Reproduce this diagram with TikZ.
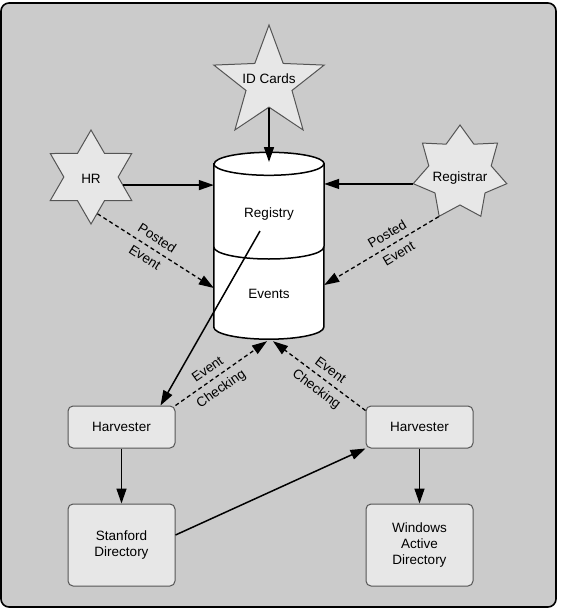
\documentclass[tikz,border=0pt]{standalone}
\usepackage{fontspec}
\setmainfont{Liberation Sans}
\usepackage{xcolor}
\definecolor{framegray}{RGB}{203,203,203}
\definecolor{boxgray}{RGB}{231,231,231}
\definecolor{edgegray}{RGB}{85,85,85}
\usepackage{tikz}
\usetikzlibrary{arrows.meta}
\usetikzlibrary{shapes.geometric}
\newcommand{\labelfont}{\fontsize{13.5}{16}\selectfont}
\tikzset{
    plain/.style={font=\labelfont, align=center},
    common/.style={plain, draw=edgegray, fill=boxgray, line width=1pt},
    source/.style={common, star, inner sep=0pt},
    idstar/.style={source, star points=5, star point ratio=2.4, minimum size=116pt},
    hrstar/.style={source, star points=6, star point ratio=1.73, minimum size=94pt},
    regstar/.style={source, star points=7, star point ratio=1.5, minimum size=96pt},
    box/.style={common, rectangle, rounded corners=5pt, minimum width=107pt},
    harvester/.style={box, minimum height=42pt},
    directory/.style={box, minimum height=82pt},
    body/.style={rectangle, minimum width=110pt, minimum height=163pt, inner sep=0pt},
    rim/.style={line width=1.5pt},
    feed/.style={-{Triangle[length=15pt, width=10pt]}, line width=1.5pt},
    event/.style={feed, line width=1.3pt, dash pattern=on 4pt off 3pt},
    tag/.style={plain, sloped, inner sep=6pt}
}

\begin{document}
\begin{tikzpicture}[x=1pt, y=-1pt]
      \useasboundingbox (0,0) rectangle (562,614);
      \draw[fill=framegray, line width=1.6pt, rounded corners=8pt] (1,3) rectangle (556,607);

      % sources
      \node[idstar, label={[plain, yshift=4pt]center:ID Cards}] (idcards) at (269,83) {};
      \node[hrstar, label={[plain, yshift=-2pt]center:HR}] (hr) at (91,177) {};
      \node[regstar, label={[plain, yshift=-5pt]center:Registrar}] (reg) at (460,173) {};

      % registry store
      \node[body] (store) at (269,245.5) {};
      \draw[rim, fill=white] (store.north west) -- (store.south west)
          arc[start angle=180, end angle=360, x radius=55pt, y radius=12pt]
          -- (store.north east)
          arc[start angle=0, end angle=180, x radius=55pt, y radius=11.5pt] -- cycle;
      \draw[rim] (store.north west) arc[start angle=180, end angle=360, x radius=55pt, y radius=11.5pt];
      \draw[rim] ([yshift=-1.5pt]store.west) arc[start angle=180, end angle=360, x radius=55pt, y radius=12pt];
      \node[plain] (registry) at (269,214) {Registry};
      \node[plain] (events) at (269,294) {Events};
      \coordinate (lid) at (269,162);
      \coordinate (regsrc) at (260,231);

      % harvesters and directories
      \node[harvester] (harvl) at (121.5,427) {Harvester};
      \node[harvester] (harvr) at (419.5,427) {Harvester};
      \node[directory] (stanford) at (121.5,545) {Stanford\\Directory};
      \node[directory] (windows) at (419.5,545) {Windows\\Active\\Directory};

      \draw[feed] (idcards) -- (lid);
      \draw[feed] (hr.-14) -- (hr.-14 -| store.west);
      \draw[feed] (reg.193) -- (reg.193 -| store.east);
      \draw[event] (hr.-80) -- node[tag, above, pos=.46] {Posted} node[tag, below, pos=.46] {Event} ([yshift=-42.5pt]store.west);
      \draw[event] (reg.-116) -- node[tag, above, pos=.4] {Posted} node[tag, below, pos=.4] {Event} ([yshift=-39.5pt]store.east);

      \draw[feed] (regsrc) -- ([xshift=-15pt]harvl.north east);
      \draw[event] (harvl.north east) -- node[tag, above, pos=.42] {Event} node[tag, below, pos=.42] {Checking} ([xshift=-2pt, yshift=-14pt]store.south);
      \draw[event] ([yshift=-5pt]harvr.north west) -- node[tag, above, pos=.45] {Event} node[tag, below, pos=.45] {Checking} ([xshift=4pt, yshift=-14pt]store.south);

      \draw[feed] (harvl) -- (stanford);
      \draw[feed] (harvr) -- (windows);
      \draw[feed] ([yshift=10pt]stanford.east) -- (harvr.south west);
\end{tikzpicture}
\end{document}
